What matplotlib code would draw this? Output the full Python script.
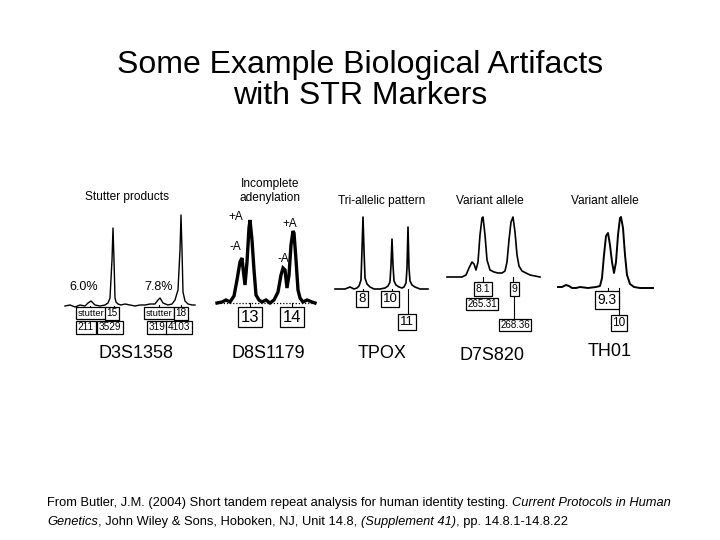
import matplotlib
matplotlib.use("Agg")
import matplotlib.pyplot as plt

plt.rcParams['font.family'] = ['Liberation Sans', 'DejaVu Sans']

# ---- text ----
title_lines = ["Some Example Biological Artifacts", "with STR Markers"]
headers = ["Stutter products", "Incomplete\nadenylation", "Tri-allelic pattern",
           "Variant allele", "Variant allele"]
markers = ["D3S1358", "D8S1179", "TPOX", "D7S820", "TH01"]

# ---- traces (x, y in pixels) ----
d3_x = [65, 70, 75, 80, 85, 88, 91, 95, 100, 105, 108, 110, 112, 113, 114, 115, 116, 118,
        121, 125, 130, 135, 140, 145, 150, 155, 158, 160, 163, 168, 172, 175, 178, 180,
        181, 182, 183, 185, 188, 192, 195]
d3_y = [306, 305, 307, 305, 306, 303, 301, 305, 306, 305, 303, 298, 260, 228, 260, 298, 302,
        304, 305, 304, 305, 306, 305, 305, 304, 304, 300, 298, 303, 305, 304, 300, 290, 250,
        215, 250, 292, 301, 304, 305, 305]

d8_x = [217, 222, 226, 230, 234, 237, 240, 242, 243, 245, 247, 249, 250, 252, 254, 256, 259,
        262, 266, 270, 274, 278, 281, 283, 285, 287, 289, 291, 293, 294, 296, 298, 300, 303,
        307, 312, 315]
d8_y = [303, 302, 300, 302, 296, 280, 262, 258, 268, 285, 262, 228, 220, 240, 270, 295, 300,
        302, 300, 303, 300, 292, 275, 268, 270, 288, 275, 245, 231, 233, 260, 290, 298, 302,
        300, 302, 303]

tpox_x = [335, 345, 350, 354, 357, 359, 361, 362, 363, 364, 365, 367, 370, 374, 380, 385, 388,
          390, 391, 392, 393, 394, 396, 399, 402, 404, 406, 407, 408, 409, 410, 412, 415, 420, 428]
tpox_y = [289, 289, 287, 289, 288, 286, 280, 250, 217, 250, 278, 284, 287, 289, 289, 288, 286,
          282, 265, 239, 265, 281, 285, 287, 288, 287, 283, 268, 227, 268, 281, 285, 287, 289, 289]

d7_x = [447, 455, 462, 466, 469, 472, 474, 476, 478, 480, 482, 483, 485, 487, 490, 494, 498,
        502, 505, 507, 509, 511, 513, 515, 517, 519, 522, 526, 530, 535, 540]
d7_y = [277, 277, 277, 275, 268, 262, 264, 270, 262, 235, 218, 217, 235, 260, 270, 272, 273,
        273, 271, 262, 240, 222, 217, 232, 255, 266, 271, 273, 275, 276, 277]

th_x = [558, 562, 566, 569, 572, 576, 580, 588, 596, 600, 602, 604, 606, 608, 610, 612, 614,
        616, 618, 620, 621, 623, 625, 627, 630, 634, 640, 648, 653]
th_y = [287, 287, 285, 286, 288, 288, 287, 288, 287, 286, 278, 255, 236, 233, 245, 262, 273,
        262, 235, 218, 217, 228, 255, 275, 284, 287, 288, 288, 288]

# ---- peak labels: (text, x, y, fontsize) ----
d3_labels = [("stutter", 91, 313, 6.8), ("15", 112, 313, 7.2), ("211", 86, 327, 7.2),
             ("3529", 110, 327, 7.2), ("stutter", 159, 313, 6.8), ("18", 181, 313, 7.2),
             ("319", 157, 327, 7.2), ("4103", 179, 327, 7.2)]
d3_pct = [("6.0%", 84, 287), ("7.8%", 159, 287)]
d8_labels = [("13", 250, 317, 12), ("14", 292, 317, 12)]
d8_marks = [("+A", 236, 217), ("-A", 235, 247), ("+A", 290, 224), ("-A", 283, 259)]
tpox_labels = [("8", 362, 299, 9.5), ("10", 390, 299, 9.5), ("11", 407, 322, 9.5)]
d7_labels = [("8.1", 483, 289, 7.5), ("265.31", 482, 304, 7), ("9", 514, 289, 7.5),
             ("268.36", 515, 325, 7)]
th_labels = [("9.3", 607, 300, 10), ("10", 619, 323, 8.5)]

# ---- connector ticks: (x, y_top, y_bottom) ----
ticks = [(90, 306, 308), (114, 306, 308), (159, 305, 308), (181, 305, 308),
         (250, 303, 308), (292, 303, 308),
         (363, 289, 292), (392, 289, 292), (408, 289, 315),
         (483, 277, 283), (513, 277, 283), (514, 295, 318),
         (608, 288, 293), (619, 288, 316)]

header_x = [127, 270, 382, 490, 605]
header_y = [197, 191, 201, 201, 201]
marker_x = [136, 268, 382, 492, 610]
marker_y = [354, 353, 353, 355, 352]

fig = plt.figure(figsize=(7.2, 5.4), dpi=100)
ax = fig.add_axes([0, 0, 1, 1])
ax.set_xlim(0, 720)
ax.set_ylim(540, 0)
ax.axis('off')

ax.text(360, 65, title_lines[0], ha='center', va='center', fontsize=23)
ax.text(360, 96, title_lines[1], ha='center', va='center', fontsize=23)

for t, x, y in zip(headers, header_x, header_y):
    ax.text(x, y, t, ha='center', va='center', fontsize=8.6, linespacing=1.15)
for t, x, y in zip(markers, marker_x, marker_y):
    ax.text(x, y, t, ha='center', va='center', fontsize=13)

ax.plot(d3_x, d3_y, color='black', lw=1.0)
ax.plot([217, 315], [303, 303], color='black', lw=0.9, ls=(0, (1, 1.5)))
ax.plot(d8_x, d8_y, color='black', lw=2.4, solid_joinstyle='miter')
ax.plot(tpox_x, tpox_y, color='black', lw=1.2)
ax.plot(d7_x, d7_y, color='black', lw=1.2)
ax.plot(th_x, th_y, color='black', lw=1.4)

for x, y0, y1 in ticks:
    ax.plot([x, x], [y0, y1], color='black', lw=0.8)

box = dict(boxstyle='square,pad=0.15', fc='white', ec='black', lw=0.9)
for group in (d3_labels, d8_labels, tpox_labels, d7_labels, th_labels):
    for t, x, y, fs in group:
        ax.text(x, y, t, ha='center', va='center', fontsize=fs, bbox=box)

for t, x, y in d3_pct:
    ax.text(x, y, t, ha='center', va='center', fontsize=9)
for t, x, y in d8_marks:
    ax.text(x, y, t, ha='center', va='center', fontsize=8.5)

# citation with italic pieces
cite_lines = [
    [("From Butler, J.M. (2004) Short tandem repeat analysis for human identity testing. ", 'normal'),
     ("Current Protocols in Human", 'italic')],
    [("Genetics", 'italic'), (", John Wiley & Sons, Hoboken, NJ, Unit 14.8, ", 'normal'),
     ("(Supplement 41)", 'italic'), (", pp. 14.8.1-14.8.22", 'normal')],
]
cite_y = [503, 522]
renderer = fig.canvas.get_renderer()
for parts, y in zip(cite_lines, cite_y):
    x = 47
    for s, style in parts:
        txt = ax.text(x, y, s, ha='left', va='center', fontsize=9.3, style=style)
        bb = txt.get_window_extent(renderer=renderer)
        x += bb.width * 720 / fig.bbox.width

fig.savefig("out.png", dpi=100)
